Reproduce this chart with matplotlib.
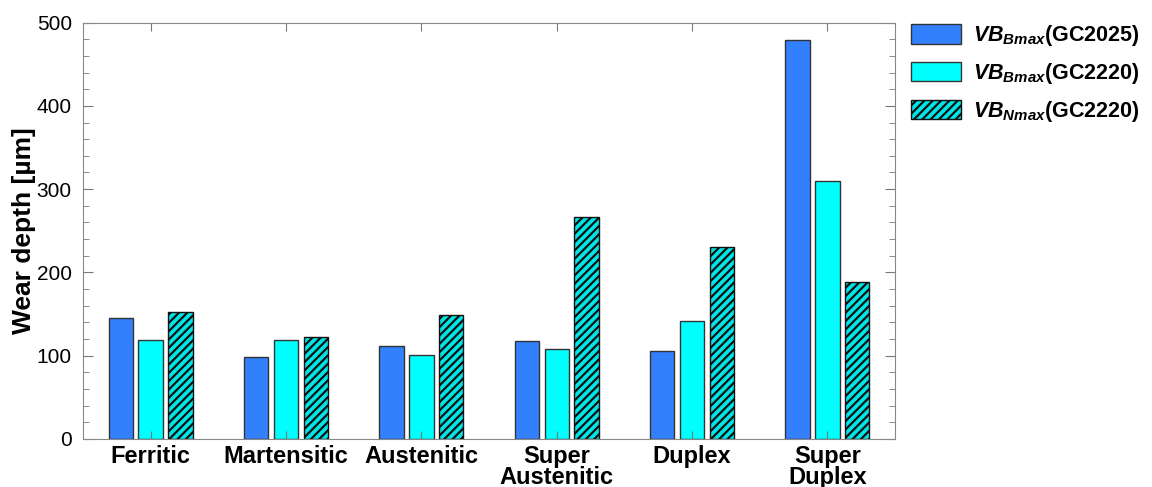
import numpy as np
import matplotlib.pyplot as plt
from matplotlib.ticker import MultipleLocator

plt.rcParams['font.family'] = 'Liberation Sans'
plt.rcParams['mathtext.fontset'] = 'custom'
plt.rcParams['mathtext.rm'] = 'Liberation Sans:bold'
plt.rcParams['mathtext.it'] = 'Liberation Sans:bold:italic'
plt.rcParams['mathtext.bf'] = 'Liberation Sans:bold'
plt.rcParams['hatch.linewidth'] = 1.6

categories = ['Ferritic', 'Martensitic', 'Austenitic', 'Super\nAustenitic', 'Duplex', 'Super\nDuplex']
vb_bmax_gc2025 = [145, 98, 112, 118, 106, 479]
vb_bmax_gc2220 = [119, 119, 101, 108, 142, 310]
vb_nmax_gc2220 = [153, 122, 149, 267, 231, 189]

labels = [r'$VB_{Bmax}$(GC2025)', r'$VB_{Bmax}$(GC2220)', r'$VB_{Nmax}$(GC2220)']

fig = plt.figure(figsize=(11.52, 4.87), dpi=100)
ax = fig.add_axes([0.072, 0.0986, 0.705, 0.855])

x = np.arange(len(categories))
w = 0.18
step = 0.22
edge = '#333333'

ax.bar(x - step, vb_bmax_gc2025, w, color='#3380ff', edgecolor=edge, linewidth=1, label=labels[0])
ax.bar(x, vb_bmax_gc2220, w, color='#00ffff', edgecolor=edge, linewidth=1, label=labels[1])
ax.bar(x + step, vb_nmax_gc2220, w, color='#00e5e5', edgecolor='#111111', hatch='////', linewidth=1, label=labels[2])

ax.set_xlim(-0.5, 5.5)
ax.set_ylim(0, 500)
ax.set_xticks(x)
ax.set_xticklabels(categories, fontsize=17, fontweight='bold', linespacing=0.9)
ax.yaxis.set_major_locator(MultipleLocator(100))
ax.yaxis.set_minor_locator(MultipleLocator(20))
ax.tick_params(axis='y', which='major', direction='in', length=7, labelsize=15, right=True, color='#777777', pad=8)
ax.tick_params(axis='y', which='minor', direction='in', length=4, right=True, color='#777777')
ax.tick_params(axis='x', direction='in', length=6, top=True, color='#777777', pad=4)
for s in ax.spines.values():
    s.set_color('#888888')

ax.set_ylabel('Wear depth [µm]', fontsize=19, fontweight='bold', labelpad=0.5)

leg = ax.legend(loc='upper left', bbox_to_anchor=(1.009, 1.019), frameon=False,
                prop={'size': 15.5, 'weight': 'bold'}, handlelength=2.3, handleheight=1.0,
                labelspacing=0.6, handletextpad=0.6, borderaxespad=0)

fig.savefig('out.png', dpi=100)
